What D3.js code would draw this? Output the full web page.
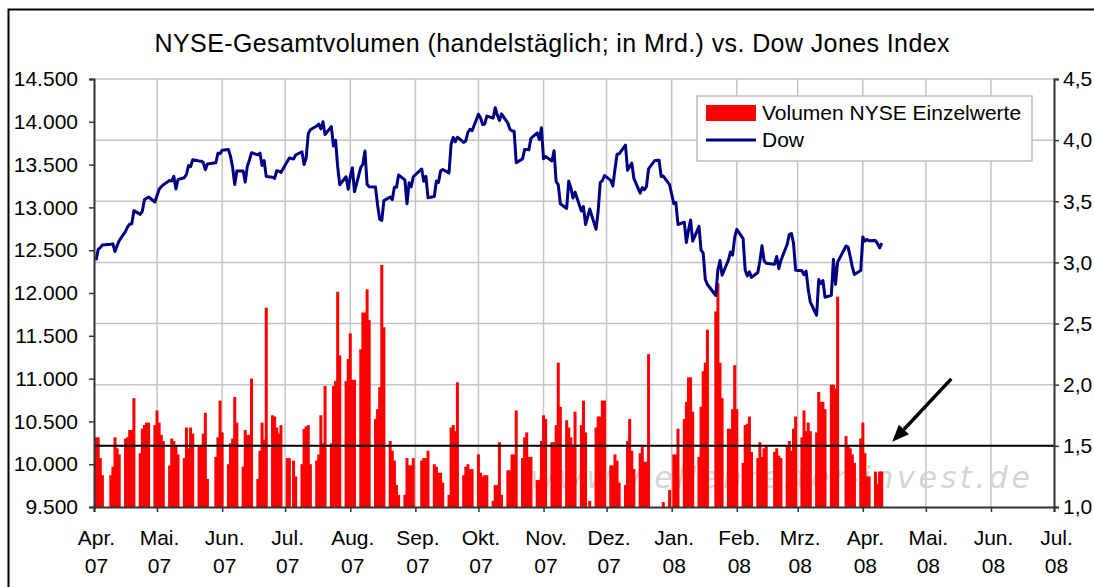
<!DOCTYPE html>
<html>
<head>
<meta charset="utf-8">
<script src="https://cdn.jsdelivr.net/npm/d3@7"></script>
<style>
  body { margin: 0; background: #fff; }
  svg { display: block; font-family: "Liberation Sans", Arial, sans-serif; }
</style>
</head>
<body>
<svg width="1094" height="587"></svg>
<script>
// NYSE trading days, one line per week
let tradingDays = [
  "2007-04-02","2007-04-03","2007-04-04","2007-04-05",
  "2007-04-09","2007-04-10","2007-04-11","2007-04-12","2007-04-13",
  "2007-04-16","2007-04-17","2007-04-18","2007-04-19","2007-04-20",
  "2007-04-23","2007-04-24","2007-04-25","2007-04-26","2007-04-27",
  "2007-04-30","2007-05-01","2007-05-02","2007-05-03","2007-05-04",
  "2007-05-07","2007-05-08","2007-05-09","2007-05-10","2007-05-11",
  "2007-05-14","2007-05-15","2007-05-16","2007-05-17","2007-05-18",
  "2007-05-21","2007-05-22","2007-05-23","2007-05-24","2007-05-25",
  "2007-05-29","2007-05-30","2007-05-31","2007-06-01",
  "2007-06-04","2007-06-05","2007-06-06","2007-06-07","2007-06-08",
  "2007-06-11","2007-06-12","2007-06-13","2007-06-14","2007-06-15",
  "2007-06-18","2007-06-19","2007-06-20","2007-06-21","2007-06-22",
  "2007-06-25","2007-06-26","2007-06-27","2007-06-28","2007-06-29",
  "2007-07-02","2007-07-03","2007-07-05","2007-07-06",
  "2007-07-09","2007-07-10","2007-07-11","2007-07-12","2007-07-13",
  "2007-07-16","2007-07-17","2007-07-18","2007-07-19","2007-07-20",
  "2007-07-23","2007-07-24","2007-07-25","2007-07-26","2007-07-27",
  "2007-07-30","2007-07-31","2007-08-01","2007-08-02","2007-08-03",
  "2007-08-06","2007-08-07","2007-08-08","2007-08-09","2007-08-10",
  "2007-08-13","2007-08-14","2007-08-15","2007-08-16","2007-08-17",
  "2007-08-20","2007-08-21","2007-08-22","2007-08-23","2007-08-24",
  "2007-08-27","2007-08-28","2007-08-29","2007-08-30","2007-08-31",
  "2007-09-04","2007-09-05","2007-09-06","2007-09-07",
  "2007-09-10","2007-09-11","2007-09-12","2007-09-13","2007-09-14",
  "2007-09-17","2007-09-18","2007-09-19","2007-09-20","2007-09-21",
  "2007-09-24","2007-09-25","2007-09-26","2007-09-27","2007-09-28",
  "2007-10-01","2007-10-02","2007-10-03","2007-10-04","2007-10-05",
  "2007-10-08","2007-10-09","2007-10-10","2007-10-11","2007-10-12",
  "2007-10-15","2007-10-16","2007-10-17","2007-10-18","2007-10-19",
  "2007-10-22","2007-10-23","2007-10-24","2007-10-25","2007-10-26",
  "2007-10-29","2007-10-30","2007-10-31","2007-11-01","2007-11-02",
  "2007-11-05","2007-11-06","2007-11-07","2007-11-08","2007-11-09",
  "2007-11-12","2007-11-13","2007-11-14","2007-11-15","2007-11-16",
  "2007-11-19","2007-11-20","2007-11-21","2007-11-23",
  "2007-11-26","2007-11-27","2007-11-28","2007-11-29","2007-11-30",
  "2007-12-03","2007-12-04","2007-12-05","2007-12-06","2007-12-07",
  "2007-12-10","2007-12-11","2007-12-12","2007-12-13","2007-12-14",
  "2007-12-17","2007-12-18","2007-12-19","2007-12-20","2007-12-21",
  "2007-12-24","2007-12-26","2007-12-27","2007-12-28",
  "2007-12-31","2008-01-02","2008-01-03","2008-01-04",
  "2008-01-07","2008-01-08","2008-01-09","2008-01-10","2008-01-11",
  "2008-01-14","2008-01-15","2008-01-16","2008-01-17","2008-01-18",
  "2008-01-22","2008-01-23","2008-01-24","2008-01-25",
  "2008-01-28","2008-01-29","2008-01-30","2008-01-31","2008-02-01",
  "2008-02-04","2008-02-05","2008-02-06","2008-02-07","2008-02-08",
  "2008-02-11","2008-02-12","2008-02-13","2008-02-14","2008-02-15",
  "2008-02-19","2008-02-20","2008-02-21","2008-02-22",
  "2008-02-25","2008-02-26","2008-02-27","2008-02-28","2008-02-29",
  "2008-03-03","2008-03-04","2008-03-05","2008-03-06","2008-03-07",
  "2008-03-10","2008-03-11","2008-03-12","2008-03-13","2008-03-14",
  "2008-03-17","2008-03-18","2008-03-19","2008-03-20",
  "2008-03-24","2008-03-25","2008-03-26","2008-03-27","2008-03-28",
  "2008-03-31","2008-04-01","2008-04-02","2008-04-03","2008-04-04",
  "2008-04-07","2008-04-08","2008-04-09","2008-04-10"
];

// Dow Jones close, same rows
let dowClose = [
  12382,12510,12530,12560,
  12569,12574,12485,12553,12612,
  12720,12773,12804,12809,12962,
  12919,12954,13090,13106,13121,
  13063,13136,13212,13241,13265,
  13313,13309,13363,13215,13326,
  13347,13384,13488,13477,13557,
  13543,13540,13526,13441,13507,
  13521,13633,13628,13668,
  13676,13595,13466,13267,13424,
  13425,13295,13482,13554,13639,
  13613,13635,13489,13546,13360,
  13352,13338,13428,13422,13409,
  13535,13577,13566,13612,
  13650,13502,13578,13862,13907,
  13951,13972,13918,14000,13851,
  13943,13717,13785,13474,13265,
  13358,13212,13362,13463,13182,
  13469,13504,13658,13271,13240,
  13237,13029,12861,12846,13079,
  13121,13091,13236,13236,13379,
  13322,13042,13289,13239,13358,
  13449,13305,13363,13113,
  13128,13308,13292,13425,13443,
  13403,13739,13816,13767,13820,
  13759,13779,13878,13913,13896,
  14088,14047,13968,13974,14066,
  14044,14165,14079,14015,14093,
  13985,13913,13893,13889,13522,
  13567,13676,13675,13672,13807,
  13870,13792,13930,13568,13595,
  13543,13661,13300,13266,13043,
  12988,13307,13231,13110,13177,
  12958,13010,12799,12981,
  12743,12958,13289,13312,13372,
  13315,13249,13445,13620,13626,
  13727,13433,13474,13518,13340,
  13167,13232,13207,13246,13451,
  13549,13552,13360,13366,
  13265,13044,13057,12800,
  12827,12589,12735,12853,12606,
  12778,12501,12466,12159,12099,
  11971,12270,12379,12207,
  12384,12480,12443,12650,12743,
  12635,12265,12200,12247,12182,
  12240,12373,12552,12377,12348,
  12337,12427,12284,12381,
  12570,12685,12694,12582,12266,
  12259,12214,12255,12040,11894,
  11740,12157,12110,12146,11951,
  11972,12393,12100,12361,
  12549,12533,12423,12302,12216,
  12263,12654,12606,12626,12609,
  12612,12576,12527,12582
];

// NYSE volume (Mrd. Stueck), same rows
let nyseVolume = [
  1.57,1.57,1.40,1.26,
  1.26,1.33,1.57,1.48,1.43,
  1.56,1.57,1.63,1.63,1.89,
  1.44,1.64,1.67,1.69,1.69,
  1.67,1.79,1.69,1.59,1.54,
  1.34,1.56,1.54,1.50,1.43,
  1.40,1.65,1.48,1.65,1.60,
  1.50,1.50,1.60,1.77,1.23,
  1.41,1.57,1.87,1.61,
  1.35,1.52,1.56,1.90,1.69,
  1.33,1.63,1.59,1.59,2.05,
  1.23,1.46,1.69,1.55,2.63,
  1.75,1.74,1.65,1.60,1.67,
  1.40,1.40,1.38,1.25,
  1.35,1.64,1.66,1.67,1.35,
  1.38,1.43,1.75,1.52,1.99,
  1.52,1.99,2.03,2.76,2.24,
  2.03,2.21,2.42,2.04,2.04,
  2.29,2.59,2.59,2.78,2.53,
  1.72,1.80,1.98,2.98,2.47,
  1.54,1.46,1.38,1.18,1.10,
  1.10,1.40,1.34,1.34,1.40,
  1.38,1.40,1.40,1.46,
  1.35,1.33,1.28,1.28,1.20,
  1.10,1.65,1.67,1.62,2.02,
  1.26,1.33,1.35,1.31,1.31,
  1.43,1.28,1.25,1.26,1.26,
  1.05,1.18,1.18,1.53,1.10,
  1.30,1.30,1.43,1.43,1.79,
  1.40,1.57,1.61,1.41,1.41,
  1.22,1.22,1.54,1.75,1.72,
  1.53,1.53,1.67,2.18,1.82,
  1.71,1.65,1.57,1.50,1.78,
  1.67,1.87,1.61,1.05,
  1.65,1.74,1.74,1.87,1.87,
  1.34,1.34,1.43,1.38,1.20,
  1.18,1.54,1.72,1.46,1.31,
  1.44,1.49,1.37,1.37,2.25,
  0.90,0.95,0.98,1.04,
  1.14,1.43,1.43,1.64,
  1.72,1.86,2.06,2.06,1.78,
  1.41,1.82,2.11,2.18,2.45,
  2.60,2.83,2.18,1.89,
  1.64,1.64,1.80,2.16,1.80,
  1.36,1.67,1.68,1.74,1.45,
  1.40,1.53,1.41,1.48,1.50,
  1.45,1.48,1.42,1.40,
  1.50,1.54,1.46,1.64,1.74,
  1.57,1.79,1.62,1.69,1.62,
  1.61,1.94,1.86,1.86,1.80,
  2.00,2.00,1.97,2.72,
  1.58,1.50,1.48,1.43,1.36,
  1.56,1.69,1.44,1.25,1.25,
  1.29,1.19,1.29,1.29
];

let monthLabels = ["Apr.","Mai.","Jun.","Jul.","Aug.","Sep.","Okt.","Nov.","Dez.","Jan.","Feb.","Mrz.","Apr.","Mai.","Jun.","Jul."];
let yearLabels = ["07","07","07","07","07","07","07","07","07","08","08","08","08","08","08","08"];
let dowTicks = [9500,10000,10500,11000,11500,12000,12500,13000,13500,14000,14500];
let volTicks = [1.0,1.5,2.0,2.5,3.0,3.5,4.0,4.5];
let volMark = 1.5;

let title = "NYSE-Gesamtvolumen (handelstäglich; in Mrd.) vs. Dow Jones Index";
let legendNames = ["Volumen NYSE Einzelwerte", "Dow"];

// ---- setup
let parse = d3.timeParse("%Y-%m-%d");
let days = tradingDays.map(parse);

let plotLeft = 94, plotRight = 1054, plotTop = 79, plotBottom = 507;
let labelSize = "21px";

let xScale = d3.scaleTime()
  .domain([new Date(2007, 3, 1), new Date(2008, 6, 1)])
  .range([plotLeft, plotRight]);

let yDow = d3.scaleLinear().domain([9500, 14500]).range([plotBottom, plotTop]);
let yVol = d3.scaleLinear().domain([1, 4.5]).range([plotBottom, plotTop]).clamp(true);

let months = d3.timeMonth.range(new Date(2007, 3, 1), new Date(2008, 6, 2));

let de = d3.formatLocale({ decimal: ",", thousands: ".", grouping: [3], currency: ["", " €"] });

let svg = d3.select("svg");

// outer frame (cut off at right / bottom like the screenshot)
svg.append("rect")
  .attr("x", 8.5).attr("y", 9.5)
  .attr("width", 1200).attr("height", 700)
  .attr("fill", "#fff").attr("stroke", "#000").attr("stroke-width", 2);

svg.append("text")
  .attr("x", 552).attr("y", 52)
  .attr("text-anchor", "middle")
  .attr("textLength", 795)
  .attr("lengthAdjust", "spacing")
  .style("font-size", "25px")
  .text(title);

// gridlines
svg.append("g").selectAll("line")
  .data(volTicks.filter(v => v > 1))
  .enter().append("line")
  .attr("x1", plotLeft).attr("x2", plotRight)
  .attr("y1", d => yVol(d)).attr("y2", d => yVol(d))
  .attr("stroke", "#c4c4c4").attr("stroke-width", 1.5);

svg.append("g").selectAll("line")
  .data(months.slice(1, -1))
  .enter().append("line")
  .attr("x1", d => xScale(d)).attr("x2", d => xScale(d))
  .attr("y1", plotTop).attr("y2", plotBottom)
  .attr("stroke", "#c4c4c4").attr("stroke-width", 1.5);

// watermark
svg.append("text")
  .attr("x", 530).attr("y", 488)
  .attr("textLength", 500)
  .style("font-family", "'DejaVu Sans', sans-serif")
  .style("font-style", "italic")
  .style("font-size", "30px")
  .attr("fill", "#d4d4d4")
  .text("www.wellenreiter-invest.de");

// volume bars
svg.append("g").selectAll("rect")
  .data(nyseVolume)
  .enter().append("rect")
  .attr("x", (d, i) => xScale(days[i]) - 1.5)
  .attr("width", 3)
  .attr("y", d => yVol(d))
  .attr("height", d => plotBottom - yVol(d))
  .attr("fill", "#ff0000");

// 1,5 marker line
svg.append("line")
  .attr("x1", plotLeft).attr("x2", plotRight)
  .attr("y1", yVol(volMark)).attr("y2", yVol(volMark))
  .attr("stroke", "#000").attr("stroke-width", 2);

// dow line
let dowLine = d3.line()
  .x((d, i) => xScale(days[i]))
  .y(d => yDow(d));

svg.append("path")
  .datum(dowClose)
  .attr("d", dowLine)
  .attr("fill", "none")
  .attr("stroke", "#000080")
  .attr("stroke-width", 3)
  .attr("stroke-linejoin", "round");

// axes
let yAxisLeft = d3.axisLeft(yDow)
  .tickValues(dowTicks)
  .tickFormat(de.format(",.0f"))
  .tickSizeOuter(0).tickSize(5).tickPadding(11);

let yAxisRight = d3.axisRight(yVol)
  .tickValues(volTicks)
  .tickFormat(de.format(".1f"))
  .tickSizeOuter(0).tickSize(5).tickPadding(4);

let xAxis = d3.axisBottom(xScale)
  .tickValues(months)
  .tickFormat("")
  .tickSizeOuter(0).tickSize(5);

let gl = svg.append("g").attr("transform", "translate(" + plotLeft + ",0)").call(yAxisLeft);
let gr = svg.append("g").attr("transform", "translate(" + plotRight + ",0)").call(yAxisRight);
let gx = svg.append("g").attr("transform", "translate(0," + plotBottom + ")").call(xAxis);

[gl, gr, gx].forEach(g => {
  g.select(".domain").attr("stroke", "#333").attr("stroke-width", 2);
  g.selectAll(".tick line").attr("stroke", "#333").attr("stroke-width", 1.5);
  g.selectAll("text").style("font-size", labelSize).style("font-family", "'Liberation Sans', Arial, sans-serif").attr("fill", "#000");
});

gx.selectAll(".tick").append("text")
  .attr("y", 38).attr("x", 2)
  .attr("text-anchor", "middle")
  .style("font-size", labelSize)
  .attr("fill", "#000")
  .text((d, i) => monthLabels[i]);

gx.selectAll(".tick").append("text")
  .attr("y", 66).attr("x", 2)
  .attr("text-anchor", "middle")
  .style("font-size", labelSize)
  .attr("fill", "#000")
  .text((d, i) => yearLabels[i]);

// legend
let lg = svg.append("g").attr("transform", "translate(697,96)");
lg.append("rect")
  .attr("width", 335).attr("height", 65)
  .attr("fill", "#fff").attr("stroke", "#bdbdbd").attr("stroke-width", 1.5);
lg.append("rect")
  .attr("x", 9).attr("y", 9).attr("width", 50).attr("height", 16)
  .attr("fill", "#ff0000");
lg.append("line")
  .attr("x1", 9).attr("x2", 59).attr("y1", 44).attr("y2", 44)
  .attr("stroke", "#000080").attr("stroke-width", 3);
lg.selectAll("text.lab")
  .data(legendNames)
  .enter().append("text")
  .attr("class", "lab")
  .attr("x", 65)
  .attr("y", (d, i) => 24 + i * 27)
  .style("font-size", labelSize)
  .text(d => d);

// arrow pointing at the 1,5 line
let tip = [xScale(new Date(2008, 3, 15)), yVol(volMark) - 4];
let tail = [tip[0] + 59, tip[1] - 63];
let dx = tip[0] - tail[0], dy = tip[1] - tail[1];
let len = Math.sqrt(dx * dx + dy * dy);
let ux = dx / len, uy = dy / len;
let headLen = 17, headW = 7;
let base = [tip[0] - ux * headLen, tip[1] - uy * headLen];

svg.append("line")
  .attr("x1", tail[0]).attr("y1", tail[1])
  .attr("x2", base[0]).attr("y2", base[1])
  .attr("stroke", "#000").attr("stroke-width", 3.5);

svg.append("path")
  .attr("d", "M" + tip + "L" + [base[0] - uy * headW, base[1] + ux * headW] +
    "L" + [base[0] + uy * headW, base[1] - ux * headW] + "Z")
  .attr("fill", "#000");
</script>
</body>
</html>
